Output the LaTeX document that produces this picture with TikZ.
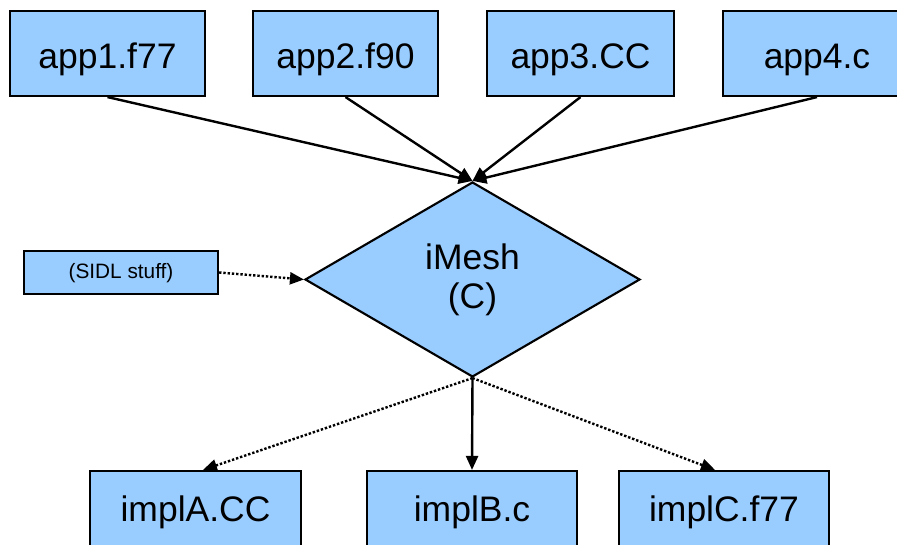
\documentclass[tikz,border=0pt]{standalone}
\usepackage{fontspec}
\setmainfont{Liberation Sans}
\usetikzlibrary{shapes.geometric,arrows.meta}
\definecolor{boxblue}{HTML}{99CCFF}
\begin{document}
\begin{tikzpicture}[x=0.75pt,y=-0.75pt,
  box/.style={draw=black,line width=1.6pt,fill=boxblue,inner sep=0pt,
    minimum height=85*0.75pt,font=\fontsize{26.6}{30}\selectfont,text depth=0pt},
  topbox/.style={box,text height=21.8pt},
  botbox/.style={box,minimum height=86*0.75pt,text height=12pt},
  smallbox/.style={box,minimum width=194*0.75pt,minimum height=43*0.75pt,
    font=\fontsize{15.6}{18}\selectfont,text height=8.3pt},
  hub/.style={diamond,draw=black,line width=1.6pt,fill=boxblue,inner sep=0pt,
    minimum width=335*0.75pt,minimum height=195*0.75pt,align=center,
    font=\fontsize{26.6}{29.25}\selectfont},
  link/.style={line width=1.8pt,-{Triangle[length=10.5pt,width=9pt]}},
  dotlink/.style={link,dash pattern=on 1.8pt off 1.4pt}]
\useasboundingbox (0,0) rectangle (897,545);
\clip (0,0) rectangle (897,545);

% applications
\node[topbox,minimum width=195*0.75pt] (app1) at (107.5,53.5) {app1.f77};
\node[topbox,minimum width=185*0.75pt] (app2) at (345.5,53.5) {app2.f90};
\node[topbox,minimum width=187*0.75pt] (app3) at (580.5,53.5) {app3.CC};
\node[topbox,minimum width=188*0.75pt] (app4) at (817,53.5) {app4.c};

% interface
\node[hub] (imesh) at (472.5,279.5) {iMesh\\(C)};
\node[smallbox] (sidl) at (121,272.5) {(SIDL stuff)};

% implementations
\node[botbox,minimum width=211*0.75pt] (implA) at (195.5,514) {implA.CC};
\node[botbox,minimum width=210*0.75pt] (implB) at (472,514) {implB.c};
\node[botbox,minimum width=210*0.75pt] (implC) at (724,514) {implC.f77};

% connectors
\foreach \a in {app1,app2,app3,app4}
  \draw[link] (\a.south) -- (imesh.north);
\draw[dotlink] (sidl.east) -- (imesh.west);
\draw[dotlink] (imesh.south) -- ([xshift=7.5*0.75pt]implA.north);
\draw[link] (imesh.south) -- (implB.north);
\draw[dotlink] (imesh.south) -- ([xshift=-9*0.75pt]implC.north);
\end{tikzpicture}
\end{document}
